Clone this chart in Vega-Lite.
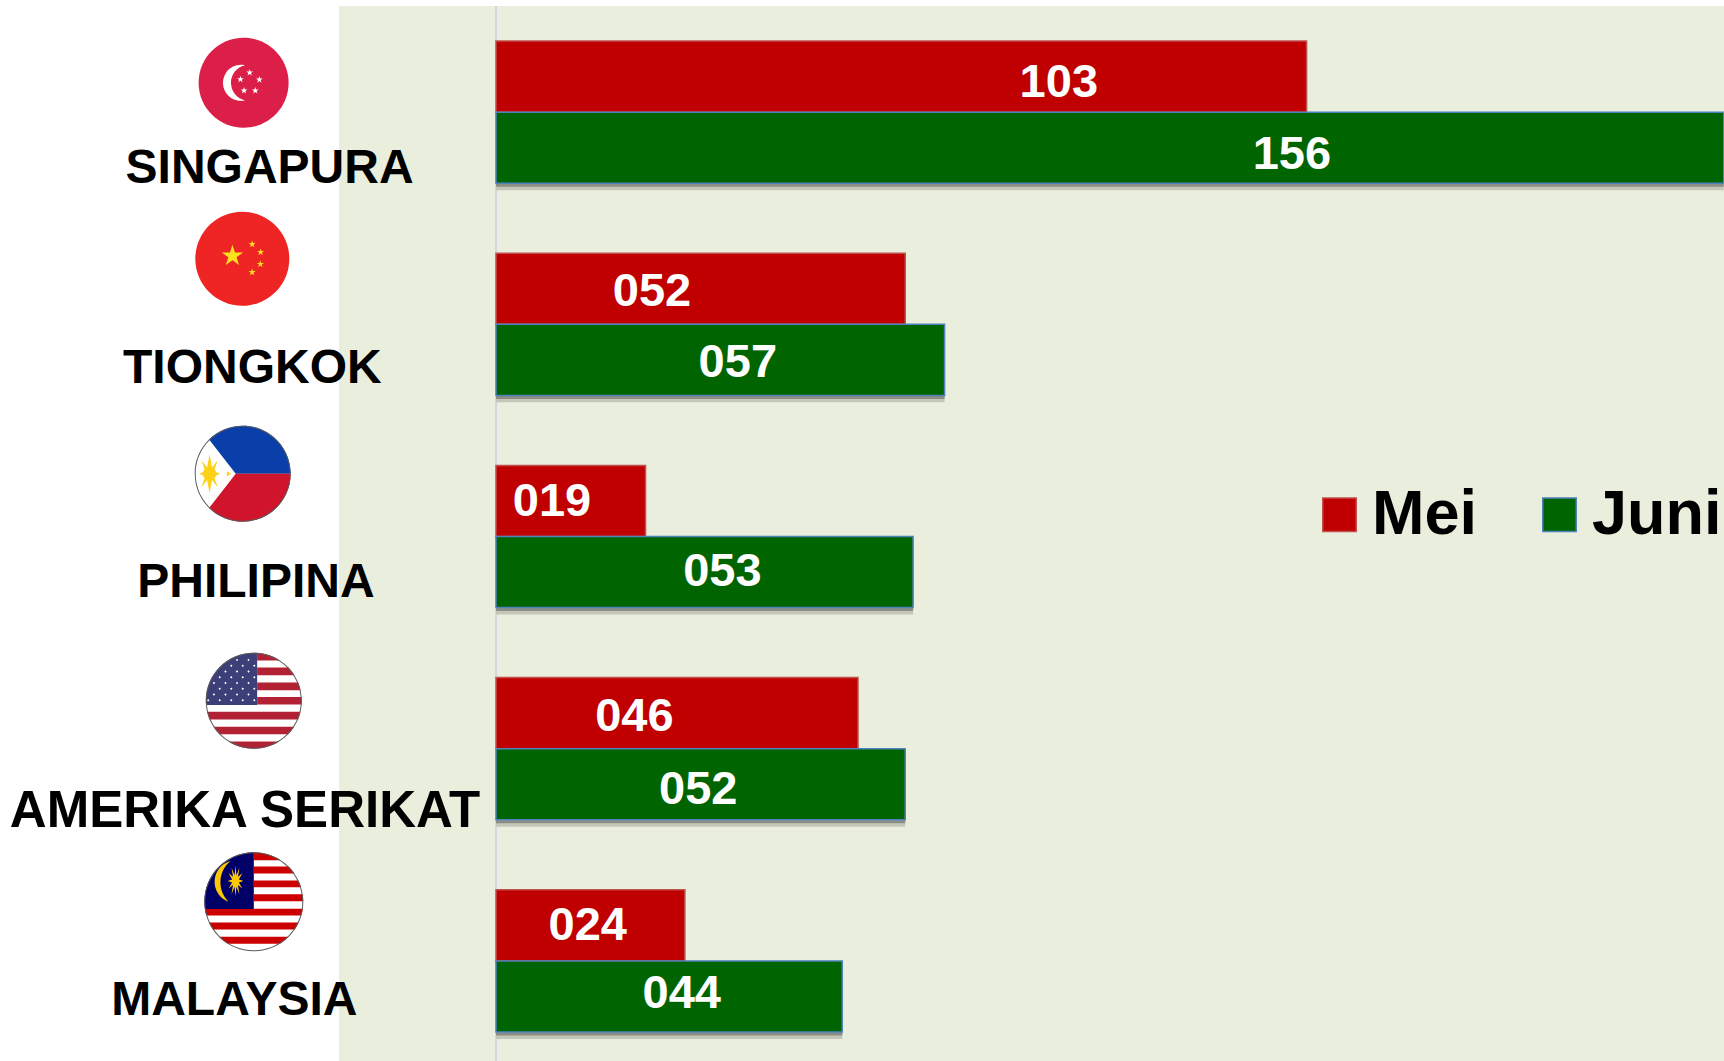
{
"$schema":"https://vega.github.io/schema/vega-lite/v6.json",
"autosize":{"type":"none"},
"padding":{"left":339,"top":6,"right":0,"bottom":0},
"width":1385,
"height":1055,
"background":"#ffffff",
"view":{"fill":"#e9eedd","stroke":null},
"datasets":{
"bars":[
{"country":"SINGAPURA","month":"Mei","value":103,"label":"103"},
{"country":"SINGAPURA","month":"Juni","value":156,"label":"156"},
{"country":"TIONGKOK","month":"Mei","value":52,"label":"052"},
{"country":"TIONGKOK","month":"Juni","value":57,"label":"057"},
{"country":"PHILIPINA","month":"Mei","value":19,"label":"019"},
{"country":"PHILIPINA","month":"Juni","value":53,"label":"053"},
{"country":"AMERIKA SERIKAT","month":"Mei","value":46,"label":"046"},
{"country":"AMERIKA SERIKAT","month":"Juni","value":52,"label":"052"},
{"country":"MALAYSIA","month":"Mei","value":24,"label":"024"},
{"country":"MALAYSIA","month":"Juni","value":44,"label":"044"}
],
"countries":[
{"country":"SINGAPURA"},{"country":"TIONGKOK"},{"country":"PHILIPINA"},{"country":"AMERIKA SERIKAT"},{"country":"MALAYSIA"}
],
"flags":[
{"country":"SINGAPURA","part":"sg-base"},{"country":"SINGAPURA","part":"sg-white"},
{"country":"TIONGKOK","part":"cn-base"},{"country":"TIONGKOK","part":"cn-yellow"},
{"country":"PHILIPINA","part":"white"},{"country":"PHILIPINA","part":"ph-blue"},{"country":"PHILIPINA","part":"ph-red"},{"country":"PHILIPINA","part":"ph-yellow"},{"country":"PHILIPINA","part":"ring"},
{"country":"AMERIKA SERIKAT","part":"white"},{"country":"AMERIKA SERIKAT","part":"us-red"},{"country":"AMERIKA SERIKAT","part":"us-blue"},{"country":"AMERIKA SERIKAT","part":"us-stars"},{"country":"AMERIKA SERIKAT","part":"ring"},
{"country":"MALAYSIA","part":"white"},{"country":"MALAYSIA","part":"my-red"},{"country":"MALAYSIA","part":"my-navy"},{"country":"MALAYSIA","part":"my-yellow"},{"country":"MALAYSIA","part":"ring"}
]
},
"data":{"name":"bars"},
"encoding":{
"y":{"field":"country","type":"nominal","sort":null,"axis":null,"title":null,
"scale":{"domain":["SINGAPURA","TIONGKOK","PHILIPINA","AMERIKA SERIKAT","MALAYSIA"],"paddingInner":0.33,"paddingOuter":0.151,"align":0.547}}
},
"layer":[
{
"mark":{"type":"rule","color":"#d3d8e0","strokeWidth":2},
"encoding":{"y":null,"x":{"datum":0,"type":"quantitative","axis":null,"title":null,"scale":{"domain":[-19.95,156.04],"zero":false,"nice":false}}}
},
{
"transform":[{"filter":"datum.month==='Juni'"}],
"mark":{"type":"rule","color":"#c4c6b8","strokeWidth":7},
"encoding":{"y":{"field":"country","type":"nominal","sort":null,"bandPosition":1.024},"x":{"field":"value","type":"quantitative"},"x2":{"datum":0}}
},
{
"transform":[{"filter":"datum.month==='Juni'"}],
"mark":{"type":"rule","color":"#8c8e84","strokeWidth":3},
"encoding":{"y":{"field":"country","type":"nominal","sort":null,"bandPosition":1.014},"x":{"field":"value","type":"quantitative"},"x2":{"datum":0}}
},
{
"mark":{"type":"bar","strokeWidth":1.5},
"encoding":{
"x":{"field":"value","type":"quantitative"},
"yOffset":{"field":"month","type":"nominal","sort":["Mei","Juni"]},
"color":{"field":"month","type":"nominal","sort":["Mei","Juni"],"title":null,
"scale":{"domain":["Mei","Juni"],"range":["#c00000","#006400"]},
"legend":{"orient":"none","legendX":969,"legendY":477,"direction":"horizontal","columns":2,"title":null,"padding":0,"symbolType":"square","symbolSize":1122,"symbolOpacity":1,"labelFont":"Liberation Sans","labelFontWeight":"bold","labelFontSize":63,"labelColor":"#000000","labelOffset":1,"labelLimit":400,"columnPadding":50,"symbolStrokeWidth":1.5}},
"stroke":{"field":"month","type":"nominal","sort":["Mei","Juni"],"title":null,"scale":{"domain":["Mei","Juni"],"range":["#c0504d","#4f81bd"]},"legend":{"orient":"none","legendX":969,"legendY":477,"direction":"horizontal","columns":2,"title":null,"padding":0,"symbolType":"square","symbolSize":1122,"symbolOpacity":1,"labelFont":"Liberation Sans","labelFontWeight":"bold","labelFontSize":63,"labelColor":"#000000","labelOffset":1,"labelLimit":400,"columnPadding":50,"symbolStrokeWidth":1.5}}
}
},
{
"transform":[
{"calculate":"datum.country+' '+datum.month","as":"key"},
{"calculate":"{'SINGAPURA Mei':562.8,'SINGAPURA Juni':795.9,'TIONGKOK Mei':156,'TIONGKOK Juni':241.8,'PHILIPINA Mei':56,'PHILIPINA Juni':226.4,'AMERIKA SERIKAT Mei':138.4,'AMERIKA SERIKAT Juni':202.2,'MALAYSIA Mei':91.7,'MALAYSIA Juni':185.7}[datum.key]","as":"nudgeX"},
{"calculate":"{'SINGAPURA Mei':40.1,'SINGAPURA Juni':112.1,'TIONGKOK Mei':36.7,'TIONGKOK Juni':107.7,'PHILIPINA Mei':34.5,'PHILIPINA Juni':104.4,'AMERIKA SERIKAT Mei':37.8,'AMERIKA SERIKAT Juni':109.9,'MALAYSIA Mei':34.5,'MALAYSIA Juni':102.2}[datum.key]","as":"nudgeY"}
],
"mark":{"type":"text","font":"Liberation Sans","fontWeight":"bold","fontSize":47,"color":"#ffffff","baseline":"middle","align":"center","dy":2},
"encoding":{
"x":{"datum":0,"type":"quantitative"},
"yOffset":{"field":"nudgeY","type":"quantitative","scale":null},
"xOffset":{"field":"nudgeX","type":"quantitative","scale":null},
"text":{"field":"label","type":"nominal"}
}
},
{
"data":{"name":"flags"},
"transform":[
{"calculate":"{'SINGAPURA':-252.4,'TIONGKOK':-253.7,'PHILIPINA':-253.3,'AMERIKA SERIKAT':-242.2,'MALAYSIA':-242.2}[datum.country]","as":"nudgeX"},
{"calculate":"{'SINGAPURA':41.8,'TIONGKOK':5.5,'PHILIPINA':8.3,'AMERIKA SERIKAT':23.1,'MALAYSIA':11.9}[datum.country]","as":"nudgeY"}
],
"mark":{"type":"point","filled":true,"opacity":1,"strokeWidth":0},
"encoding":{
"x":{"datum":0,"type":"quantitative"},
"xOffset":{"field":"nudgeX","type":"quantitative","scale":null},
"yOffset":{"field":"nudgeY","type":"quantitative","scale":null},
"size":{"field":"country","type":"nominal","legend":null,"scale":{"type":"ordinal","domain":["SINGAPURA","TIONGKOK","PHILIPINA","AMERIKA SERIKAT","MALAYSIA"],"range":[8100,8836,9216,9216,9801]}},
"fill":{"field":"part","type":"nominal","legend":null,"scale":{
"domain":["sg-base","sg-white","cn-base","cn-yellow","white","ring","ph-blue","ph-red","ph-yellow","us-red","us-blue","us-stars","my-red","my-navy","my-yellow"],
"range":["#dc1f48","#ffffff","#ee2524","#fde020","#ffffff","#5a5a5a","#0a3ea8","#cf142b","#fcd116","#b22234","#3c3f78","#ffffff","#cc0001","#010066","#fcc900"]}},
"shape":{"field":"part","type":"nominal","legend":null,"scale":{
"domain":["sg-base","sg-white","cn-base","cn-yellow","white","ring","ph-blue","ph-red","ph-yellow","us-red","us-blue","us-stars","my-red","my-navy","my-yellow"],
"range":[
"M-1,0A1,1 0 1,1 1,0A1,1 0 1,1 -1,0Z",
"M0.03,-0.39A0.4,0.4 0 1,0 0.03,0.39A0.4,0.4 0 0,1 0.03,-0.39Z M0.135,-0.31l0.018,0.055 0.058,0 -0.047,0.034 0.018,0.056 -0.047,-0.034 -0.047,0.034 0.018,-0.056 -0.047,-0.034 0.058,0z M0.35,-0.15l0.018,0.055 0.058,0 -0.047,0.034 0.018,0.056 -0.047,-0.034 -0.047,0.034 0.018,-0.056 -0.047,-0.034 0.058,0z M-0.07,-0.16l0.018,0.055 0.058,0 -0.047,0.034 0.018,0.056 -0.047,-0.034 -0.047,0.034 0.018,-0.056 -0.047,-0.034 0.058,0z M0.01,0.09l0.018,0.055 0.058,0 -0.047,0.034 0.018,0.056 -0.047,-0.034 -0.047,0.034 0.018,-0.056 -0.047,-0.034 0.058,0z M0.26,0.09l0.018,0.055 0.058,0 -0.047,0.034 0.018,0.056 -0.047,-0.034 -0.047,0.034 0.018,-0.056 -0.047,-0.034 0.058,0z",
"M-1,0A1,1 0 1,1 1,0A1,1 0 1,1 -1,0Z",
"M-0.21,-0.30l0.054,0.165 0.174,0 -0.141,0.102 0.054,0.168 -0.141,-0.102 -0.141,0.102 0.054,-0.168 -0.141,-0.102 0.174,0z M0.21,-0.39l0.018,0.055 0.058,0 -0.047,0.034 0.018,0.056 -0.047,-0.034 -0.047,0.034 0.018,-0.056 -0.047,-0.034 0.058,0z M0.39,-0.22l0.018,0.055 0.058,0 -0.047,0.034 0.018,0.056 -0.047,-0.034 -0.047,0.034 0.018,-0.056 -0.047,-0.034 0.058,0z M0.385,0.034l0.018,0.055 0.058,0 -0.047,0.034 0.018,0.056 -0.047,-0.034 -0.047,0.034 0.018,-0.056 -0.047,-0.034 0.058,0z M0.21,0.206l0.018,0.055 0.058,0 -0.047,0.034 0.018,0.056 -0.047,-0.034 -0.047,0.034 0.018,-0.056 -0.047,-0.034 0.058,0z",
"M-1,0A1,1 0 1,1 1,0A1,1 0 1,1 -1,0Z",
"M-1,0A1,1 0 1,1 1,0A1,1 0 1,1 -1,0Z M-0.98,0A0.98,0.98 0 1,0 0.98,0A0.98,0.98 0 1,0 -0.98,0Z",
"M-0.7,-0.714A1,1 0 0,1 1,0L-0.145,0Z",
"M1,0A1,1 0 0,1 -0.7,0.714L-0.145,0Z",
"M-0.47,0L-0.60,0.05 -0.52,0.28 -0.64,0.13 -0.69,0.41 -0.74,0.13 -0.86,0.28 -0.78,0.05 -0.91,0 -0.78,-0.05 -0.86,-0.28 -0.74,-0.13 -0.69,-0.41 -0.64,-0.13 -0.52,-0.28 -0.60,-0.05Z M-0.83,0A0.14,0.14 0 1,1 -0.55,0A0.14,0.14 0 1,1 -0.83,0Z M-0.33,-0.05L-0.24,0L-0.33,0.05Z",
"M0.07,-0.997L0.07,-0.84L0.543,-0.84A1,1 0 0,0 0.07,-0.997Z M0.07,-0.69L0.724,-0.69A1,1 0 0,1 0.848,-0.53L0.07,-0.53Z M0.07,-0.38L0.925,-0.38A1,1 0 0,1 0.975,-0.22L0.07,-0.22Z M0.07,-0.08L0.997,-0.08A1,1 0 0,1 0.997,0.08L0.07,0.08Z M-0.973,0.23L0.973,0.23A1,1 0 0,1 0.921,0.39L-0.921,0.39A1,1 0 0,1 -0.973,0.23Z M-0.842,0.54L0.842,0.54A1,1 0 0,1 0.714,0.70L-0.714,0.70A1,1 0 0,1 -0.842,0.54Z M-0.527,0.85L0.527,0.85A1,1 0 0,1 -0.527,0.85Z",
"M0.07,0.09L0.07,-0.997A1,1 0 0,0 -0.996,0.09Z",
"M-0.35,-0.875l0.025,0.025 -0.025,0.025 -0.025,-0.025z M-0.11,-0.875l0.025,0.025 -0.025,0.025 -0.025,-0.025z M-0.47,-0.755l0.025,0.025 -0.025,0.025 -0.025,-0.025z M-0.23,-0.755l0.025,0.025 -0.025,0.025 -0.025,-0.025z M0.01,-0.755l0.025,0.025 -0.025,0.025 -0.025,-0.025z M-0.59,-0.635l0.025,0.025 -0.025,0.025 -0.025,-0.025z M-0.35,-0.635l0.025,0.025 -0.025,0.025 -0.025,-0.025z M-0.11,-0.635l0.025,0.025 -0.025,0.025 -0.025,-0.025z M-0.71,-0.515l0.025,0.025 -0.025,0.025 -0.025,-0.025z M-0.47,-0.515l0.025,0.025 -0.025,0.025 -0.025,-0.025z M-0.23,-0.515l0.025,0.025 -0.025,0.025 -0.025,-0.025z M0.01,-0.515l0.025,0.025 -0.025,0.025 -0.025,-0.025z M-0.83,-0.395l0.025,0.025 -0.025,0.025 -0.025,-0.025z M-0.59,-0.395l0.025,0.025 -0.025,0.025 -0.025,-0.025z M-0.35,-0.395l0.025,0.025 -0.025,0.025 -0.025,-0.025z M-0.11,-0.395l0.025,0.025 -0.025,0.025 -0.025,-0.025z M-0.71,-0.275l0.025,0.025 -0.025,0.025 -0.025,-0.025z M-0.47,-0.275l0.025,0.025 -0.025,0.025 -0.025,-0.025z M-0.23,-0.275l0.025,0.025 -0.025,0.025 -0.025,-0.025z M0.01,-0.275l0.025,0.025 -0.025,0.025 -0.025,-0.025z M-0.83,-0.155l0.025,0.025 -0.025,0.025 -0.025,-0.025z M-0.59,-0.155l0.025,0.025 -0.025,0.025 -0.025,-0.025z M-0.35,-0.155l0.025,0.025 -0.025,0.025 -0.025,-0.025z M-0.11,-0.155l0.025,0.025 -0.025,0.025 -0.025,-0.025z M-0.95,-0.035l0.025,0.025 -0.025,0.025 -0.025,-0.025z M-0.71,-0.035l0.025,0.025 -0.025,0.025 -0.025,-0.025z M-0.47,-0.035l0.025,0.025 -0.025,0.025 -0.025,-0.025z M-0.23,-0.035l0.025,0.025 -0.025,0.025 -0.025,-0.025z M0.01,-0.035l0.025,0.025 -0.025,0.025 -0.025,-0.025z",
"M0,-1L0,-0.84L0.543,-0.84A1,1 0 0,0 0,-1Z M0,-0.71L0.704,-0.71A1,1 0 0,1 0.822,-0.57L0,-0.57Z M0,-0.43L0.903,-0.43A1,1 0 0,1 0.957,-0.29L0,-0.29Z M0,-0.15L0.989,-0.15A1,1 0 0,1 1,-0.01L0,-0.01Z M-0.99,0.14L0.99,0.14A1,1 0 0,1 0.96,0.28L-0.96,0.28A1,1 0 0,1 -0.99,0.14Z M-0.908,0.42L0.908,0.42A1,1 0 0,1 0.828,0.56L-0.828,0.56A1,1 0 0,1 -0.908,0.42Z M-0.704,0.71L0.704,0.71A1,1 0 0,1 0.527,0.85L-0.527,0.85A1,1 0 0,1 -0.704,0.71Z",
"M0,0.145L0,-1A1,1 0 0,0 -0.989,0.145Z",
"M-0.47,-0.82A0.43,0.43 0 0,0 -0.51,0A0.55,0.55 0 0,1 -0.47,-0.82Z M-0.21,-0.42L-0.302,-0.389 -0.231,-0.265 -0.32,-0.335 -0.29,-0.152 -0.352,-0.304 -0.37,-0.11 -0.388,-0.304 -0.45,-0.152 -0.42,-0.335 -0.509,-0.265 -0.438,-0.389 -0.53,-0.42 -0.438,-0.451 -0.509,-0.575 -0.42,-0.505 -0.45,-0.688 -0.388,-0.536 -0.37,-0.73 -0.352,-0.536 -0.29,-0.688 -0.32,-0.505 -0.231,-0.575 -0.302,-0.451Z"
]}}
}
},
{
"data":{"name":"countries"},
"transform":[
{"calculate":"{'SINGAPURA':-226.4,'TIONGKOK':-243.7,'PHILIPINA':-240.1,'AMERIKA SERIKAT':-251,'MALAYSIA':-261.7}[datum.country]","as":"nudgeX"},
{"calculate":"{'SINGAPURA':141.7,'TIONGKOK':129.5,'PHILIPINA':131.9,'AMERIKA SERIKAT':149.1,'MALAYSIA':125.2}[datum.country]","as":"nudgeY"}
],
"mark":{"type":"text","font":"Liberation Sans","fontWeight":"bold","color":"#000000","baseline":"alphabetic","align":"center"},
"encoding":{
"x":{"datum":0,"type":"quantitative"},
"xOffset":{"field":"nudgeX","type":"quantitative","scale":null},
"yOffset":{"field":"nudgeY","type":"quantitative","scale":null},
"size":{"field":"country","type":"nominal","legend":null,"scale":{"type":"ordinal","domain":["SINGAPURA","TIONGKOK","PHILIPINA","AMERIKA SERIKAT","MALAYSIA"],"range":[48,48,48,51,48]}},
"text":{"field":"country","type":"nominal"}
}
}
],
"resolve":{"scale":{"xOffset":"independent","yOffset":"independent","size":"independent"}}
}
